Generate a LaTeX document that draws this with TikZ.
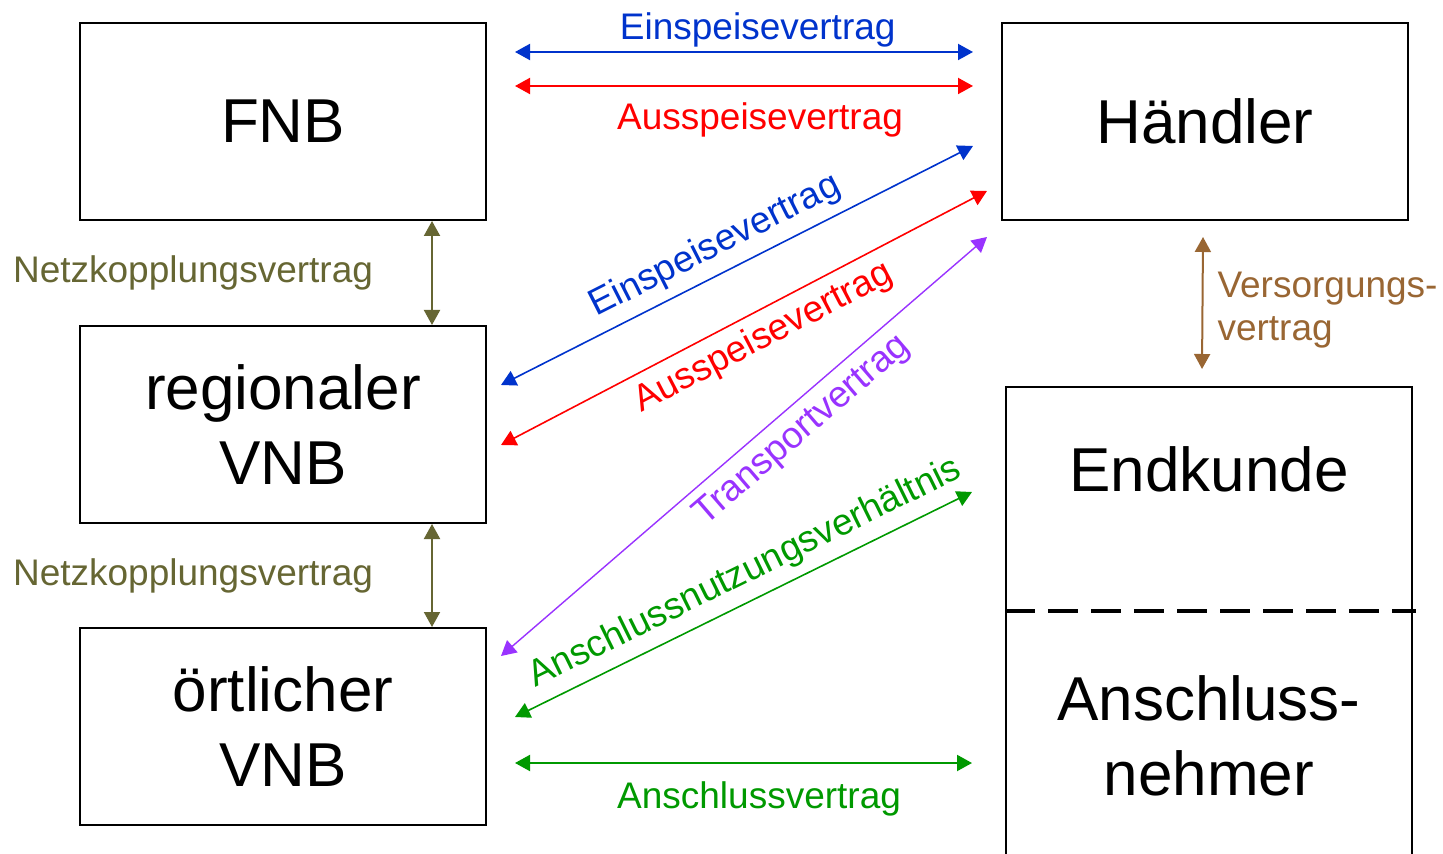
\documentclass[tikz,border=0pt]{standalone}
\usepackage{fontspec}
\setmainfont{Liberation Sans}
\usetikzlibrary{arrows.meta,positioning}
\definecolor{Blau}{RGB}{0,51,204}
\definecolor{Rot}{RGB}{255,0,0}
\definecolor{Lila}{RGB}{153,51,255}
\definecolor{Gruen}{RGB}{0,153,0}
\definecolor{Oliv}{RGB}{102,102,51}
\definecolor{Braun}{RGB}{153,102,51}

\begin{document}
\begin{tikzpicture}[x=0.5pt, y=-0.5pt, >={Triangle[length=7.5pt,width=8pt]},
  party/.style={draw, line width=1pt, minimum width=203pt, minimum height=98.5pt, align=center, inner sep=0pt, font=\fontsize{31}{37.5}\selectfont},
  big/.style={align=center, inner sep=0pt, font=\fontsize{31}{37.5}\selectfont},
  lbl/.style={font=\fontsize{18.5}{21.5}\selectfont, inner sep=4.5pt},
  pfeil/.style={<->, line width=1pt},
  schraeg/.style={<->, line width=0.8pt}]
  \clip (0,0) rectangle (1443,854);
  % Netzbetreiber links
  \node[party] (fnb) at (283,121.5) {FNB};
  \node[party, below=52pt of fnb] (rvnb) {regionaler\\VNB};
  \node[party, below=51.5pt of rvnb] (oevnb) {örtlicher\\VNB};
  % rechte Seite
  \node[party, right=257pt of fnb] (haendler) {Händler};
  \node[party, minimum height=241.5pt] (kunde) at (1209,628.5) {};
  \node[big] (endkunde) at ([yshift=-41.5pt]kunde.north) {Endkunde};
  \node[big] (anschl) at ([yshift=-175pt]kunde.north) {Anschluss-\\nehmer};
  \draw[line width=2pt, dash pattern=on 15pt off 6.5pt] ([yshift=-112.5pt]kunde.north west) -- ([xshift=1.5pt,yshift=-112.5pt]kunde.north east);
  % Vertraege FNB -- Haendler
  \draw[pfeil, Blau] ([xshift=14pt,yshift=-15pt]fnb.north east) -- node[lbl, above=-2.5pt, pos=0.53] {Einspeisevertrag} ([xshift=-14pt,yshift=-15pt]haendler.north west);
  \draw[pfeil, Rot] ([xshift=14pt,yshift=-32pt]fnb.north east) -- node[lbl, below=3.5pt, pos=0.535] {Ausspeisevertrag} ([xshift=-14pt,yshift=-32pt]haendler.north west);
  % Netzkopplung
  \draw[pfeil, Oliv] ([xshift=-27.5pt]fnb.south east) -- node[lbl, left=24.5pt] {Netzkopplungsvertrag} ([xshift=-27.5pt]rvnb.north east);
  \draw[pfeil, Oliv] ([xshift=-27.5pt]rvnb.south east) -- node[lbl, left=24.5pt] {Netzkopplungsvertrag} ([xshift=-27.5pt]oevnb.north east);
  % schraege Vertraege
  \draw[schraeg, Blau] ([xshift=7pt,yshift=-30pt]rvnb.north east) -- node[lbl, sloped, above, pos=0.48] {Einspeisevertrag} ([xshift=-14pt,yshift=37.5pt]haendler.south west);
  \draw[schraeg, Rot] ([xshift=7pt,yshift=-60pt]rvnb.north east) -- node[lbl, sloped, below, pos=0.515] {Ausspeisevertrag} ([xshift=-7pt,yshift=15pt]haendler.south west);
  \draw[schraeg, Lila, line width=0.7pt] ([xshift=7pt,yshift=-14.5pt]oevnb.north east) -- node[lbl, sloped, below, pos=0.585] {Transportvertrag} ([xshift=-7pt,yshift=-8pt]haendler.south west);
  \draw[schraeg, Gruen] ([xshift=14pt,yshift=-45pt]oevnb.north east) -- node[lbl, sloped, above, pos=0.53] {Anschlussnutzungsverhältnis} ([xshift=-16.5pt,yshift=-53pt]kunde.north west);
  \draw[pfeil, Gruen] ([xshift=14pt,yshift=-68pt]oevnb.north east) coordinate (av) -- node[lbl, below=4.5pt, pos=0.534] {Anschlussvertrag} ([xshift=-16.5pt]av -| kunde.west);
  % Versorgung
  \draw[pfeil, Braun] ([xshift=101pt,yshift=-8pt]haendler.south west) -- node[lbl, right=2.5pt, yshift=-3.5pt, align=left] {Versorgungs-\\vertrag} ([xshift=98.5pt,yshift=8.5pt]kunde.north west);
\end{tikzpicture}
\end{document}
